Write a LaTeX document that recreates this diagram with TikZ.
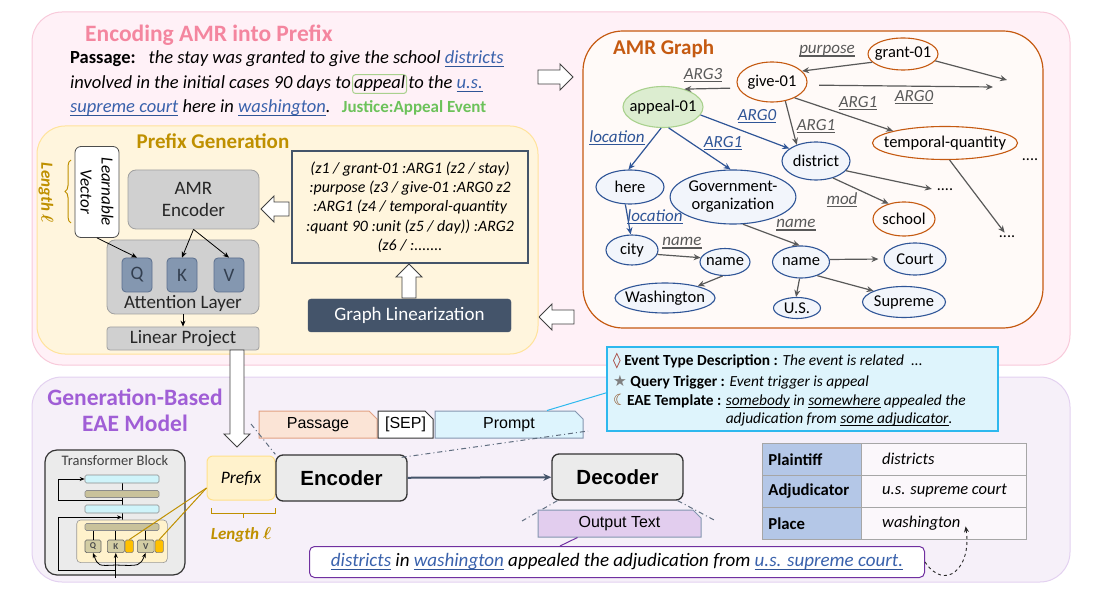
\documentclass[tikz,border=0pt]{standalone}
\usepackage{fontspec}
\usepackage{amsmath}
\usepackage{xcolor}
\usetikzlibrary{positioning,shapes.geometric,shapes.misc,decorations.pathreplacing,arrows.meta}

\setmainfont{Carlito}
\newfontfamily\arialfont{Liberation Sans}
\newfontfamily\symbolfont{DejaVu Sans}

\definecolor{pinkfill}{HTML}{FFF1F7}
\definecolor{pinkline}{HTML}{F8C9DA}
\definecolor{pinktitle}{HTML}{F4869F}
\definecolor{amrline}{HTML}{C55A11}
\definecolor{amrfill}{HTML}{FFFAF8}
\definecolor{nodeblue}{HTML}{2F5597}
\definecolor{nodefill}{HTML}{F2F5FB}
\definecolor{edgegray}{HTML}{595959}
\definecolor{trigfill}{HTML}{DCEDD0}
\definecolor{trigline}{HTML}{A9D18E}
\definecolor{eventgreen}{HTML}{6CC25A}
\definecolor{wordblue}{HTML}{3A62AC}
\definecolor{ulblue}{HTML}{2F5597}
\definecolor{prefixfill}{HTML}{FFF5DD}
\definecolor{prefixline}{HTML}{FFE39B}
\definecolor{gold}{HTML}{BF9000}
\definecolor{boxgray}{HTML}{D0D0D0}
\definecolor{boxline}{HTML}{A0A0A0}
\definecolor{qkvfill}{HTML}{8497B0}
\definecolor{qkvline}{HTML}{5B6F8E}
\definecolor{qkvtext}{HTML}{333F50}
\definecolor{slate}{HTML}{44546A}
\definecolor{lavfill}{HTML}{F6F0F9}
\definecolor{lavline}{HTML}{E3D1F0}
\definecolor{lavtitle}{HTML}{A05ED6}
\definecolor{cyanfill}{HTML}{DEF4FC}
\definecolor{cyanline}{HTML}{2DB8EE}
\definecolor{rolefill}{HTML}{B4C7E7}
\definecolor{cellfill}{HTML}{FBF7FB}
\definecolor{cellline}{HTML}{A6A6A6}
\definecolor{peachfill}{HTML}{FBE4D6}
\definecolor{peachline}{HTML}{E2A183}
\definecolor{promptfill}{HTML}{DDF4FD}
\definecolor{tabline}{HTML}{8496B0}
\definecolor{outfill}{HTML}{E2CDEE}
\definecolor{outpurple}{HTML}{7030A0}
\definecolor{blockgray}{HTML}{EBEBEB}
\definecolor{barcyan}{HTML}{CFF4FA}
\definecolor{barolive}{HTML}{C9C29B}
\definecolor{qkvolive}{HTML}{D3CDA4}
\definecolor{prefixbox}{HTML}{FFF2CC}
\definecolor{prefixboxline}{HTML}{FFE08A}
\definecolor{keyorange}{HTML}{FFC000}
\definecolor{diamondred}{HTML}{A33A30}
\definecolor{moonbrown}{HTML}{8A4A1C}

\newsavebox\ulbox
\newcommand{\ulw}[2]{\sbox\ulbox{#2}\rlap{\textcolor{#1}{\rule[-3pt]{\wd\ulbox}{1.2pt}}}\usebox\ulbox}
\newcommand{\pw}[1]{\textcolor{wordblue}{\ulw{ulblue}{#1}}}

\tikzset{
  titletext/.style={anchor=base west, inner sep=0pt},
  passtext/.style={anchor=base west, inner sep=0pt, font=\fontsize{18.5}{21}\selectfont},
  amrshape/.style={ellipse, draw=nodeblue, fill=nodefill, line width=1.1pt, inner sep=0pt,
    font=\fontsize{16.5}{18}\selectfont},
  amrnode/.style={amrshape, execute at begin node={\hbox to 0pt\bgroup\hss},
    execute at end node={\hss\egroup}},
  amrroot/.style={amrnode, draw=amrline, fill=amrfill},
  amrtrig/.style={amrnode, draw=trigline, fill=trigfill},
  grayedge/.style={draw=edgegray, line width=1.2pt, -{Stealth[length=7pt,width=6pt]}},
  blueedge/.style={grayedge, draw=nodeblue},
  graylabel/.style={inner sep=0pt, text=edgegray, font=\fontsize{17}{19}\selectfont\itshape},
  bluelabel/.style={graylabel, text=nodeblue},
  dots/.style={inner sep=0pt, font=\fontsize{16}{18}\selectfont},
  graybox/.style={draw=boxline, fill=boxgray, line width=0.8pt, rounded corners=8pt,
    font=\fontsize{19}{22}\selectfont, text=black!85},
  qkv/.style={draw=qkvline, fill=qkvfill, line width=0.8pt, rounded corners=4pt,
    minimum width=30, minimum height=34, inner sep=0pt, text=qkvtext, font=\fontsize{19}{22}\selectfont},
  smallarrow/.style={draw=black, line width=0.8pt, -{Stealth[length=6pt,width=5pt]}},
  tab/.style={chamfered rectangle, chamfered rectangle corners=north east,
    chamfered rectangle xsep=4pt, chamfered rectangle ysep=4pt, minimum height=27,
    inner sep=0pt, line width=1pt, font=\arialfont\fontsize{16}{18}\selectfont},
  coder/.style={draw=black!80, fill=blockgray, line width=1.3pt, rounded corners=7pt,
    minimum width=131, minimum height=46, font=\arialfont\bfseries\fontsize{20.5}{22}\selectfont},
  dashdotline/.style={draw=slate!85, line width=1pt, dash pattern=on 5pt off 3pt on 1pt off 3pt},
  bar/.style={draw=black!45, line width=0.6pt, rounded corners=1.5pt, minimum width=74, inner sep=0pt},
  tqkv/.style={draw=black!60, fill=qkvolive, line width=0.6pt, rounded corners=1.5pt,
    minimum height=12.7, inner sep=0pt, font=\fontsize{9}{10}\selectfont\bfseries, text=black!70},
  tkey/.style={draw=black!50, fill=keyorange, line width=0.6pt, rounded corners=1.5pt,
    minimum width=8.3, minimum height=12.7, inner sep=0pt},
  wire/.style={draw=black, line width=0.8pt},
  evtext/.style={anchor=base west, inner sep=0pt, font=\fontsize{15.4}{18}\selectfont},
  rolecell/.style={draw=cellline, fill=rolefill, line width=0.8pt, text width=87pt, inner xsep=6pt,
    minimum height=32, align=left, font=\fontsize{16.7}{18}\selectfont\bfseries},
  argcell/.style={draw=cellline, fill=cellfill, line width=0.8pt, minimum width=165, minimum height=32},
  argtext/.style={inner sep=0pt, font=\fontsize{16.5}{18}\selectfont\itshape},
  pics/hollowarrow/.style={code={
    \draw[draw=black!75, fill=white, line width=0.9pt]
      (0,-7) -- (#1-13,-7) -- (#1-13,-13) -- (#1,0) -- (#1-13,13) -- (#1-13,7) -- (0,7) -- cycle;}},
}

\begin{document}
\begin{tikzpicture}[x=1pt, y=-1pt]
\useasboundingbox (0,0) rectangle (1105,593);

% Encoding AMR into Prefix
\draw[pinkline, fill=pinkfill, line width=1pt, rounded corners=30pt] (32,12) rectangle (1070,365);
\node[titletext, text=pinktitle, font=\fontsize{23.5}{26}\selectfont\bfseries] (enctitle) at (85,42) {Encoding AMR into Prefix};

% passage with the trigger
\node[passtext] (pass1) at (70,64) {\textbf{Passage:}\hspace{13pt}\textit{the stay was granted to give the school \pw{districts}}};
\node[passtext] (pass2a) at (70,89) {\textit{involved in the initial cases 90 days to}};
\node[passtext, draw=trigline, line width=1pt, rounded corners=3pt, inner sep=1.5pt] (appeal) at ([xshift=1pt]pass2a.base east) {\textit{appeal}};
\node[passtext] (pass2b) at ([xshift=1pt]appeal.base east) {\textit{to the \pw{u.s.}}};
\node[passtext] (pass3) at (70,113) {\textit{\pw{supreme court} here in \pw{washington}.}};
\node[passtext, text=eventgreen, font=\fontsize{17}{19}\selectfont\bfseries] (evtype) at ([xshift=11pt]pass3.base east) {Justice:Appeal Event};

\pic at (538,77) {hollowarrow=35};

% AMR graph
\draw[amrline, fill=amrfill, line width=1.2pt, rounded corners=40pt] (583,31) rectangle (1043,328);
\node[titletext, text=amrline, font=\fontsize{21}{24}\selectfont\bfseries] (amrtitle) at (613,55) {AMR Graph};

\node[amrroot, minimum width=70, minimum height=32] (grant) at (903,54) {grant-01};
\node[amrroot, minimum width=70, minimum height=40] (give) at (772,82) {give-01};
\node[amrtrig, minimum width=80, minimum height=41] (appeal01) at (663,107) {appeal-01};
\node[amrnode, minimum width=68, minimum height=38] (district) at (816,161) {district};
\node[amrroot, minimum width=145, minimum height=33] (temporal) at (945,143) {temporal-quantity};
\node[amrnode, minimum width=68, minimum height=34] (here) at (630,187) {here};
\node[amrshape, minimum width=113, minimum height=54, align=center] (govorg) at (733,197) {Government-\\organization};
\node[amrroot, minimum width=62, minimum height=34] (school) at (904,219) {school};
\node[amrnode, minimum width=52, minimum height=30] (city) at (632,250) {city};
\node[amrnode, minimum width=50, minimum height=27] (cityname) at (725,262) {name};
\node[amrnode, minimum width=100, minimum height=30] (washington) at (665,298) {Washington};
\node[amrnode, minimum width=57, minimum height=32] (orgname) at (801,262) {name};
\node[amrnode, minimum width=62, minimum height=32] (court) at (915,259) {Court};
\node[amrnode, minimum width=47, minimum height=21] (us) at (797,308) {U.S.};
\node[amrnode, minimum width=83, minimum height=31] (supreme) at (904,302) {Supreme};
\node[dots] (dots1) at (1030,160) {....};
\node[dots] (dots2) at (945,190) {....};
\node[dots] (dots3) at (1007,237) {....};
\coordinate (grantout) at (1007,80);
\coordinate (giveout) at (993,87);

\draw[grayedge] (grant.195) -- (give.20);
\draw[grayedge] (grant.-12) -- (grantout);
\draw[grayedge, shorten <=12pt] (give.-5) -- (giveout);
\draw[grayedge, shorten <=8pt] (give.190) -- (appeal01.40);
\draw[grayedge] (give.-55) -- (district.140);
\draw[grayedge] (give.-35) -- (temporal.167);
\draw[blueedge] (appeal01.-12) -- (district.155);
\draw[blueedge] (appeal01.-95) -- (here.95);
\draw[blueedge] (appeal01.-75) -- (govorg.95);
\draw[grayedge, shorten >=5pt] (district.-18) -- (dots2.west);
\draw[grayedge] (district.-45) -- (school.135);
\draw[grayedge, shorten >=4pt] (temporal.-75) -- (dots3.north);
\draw[blueedge] (here.-105) -- (city.95);
\draw[grayedge] (city.-10) -- (cityname.170);
\draw[grayedge] (cityname.-100) -- (washington.20);
\draw[grayedge] (govorg.-70) -- (orgname.95);
\draw[grayedge, shorten >=5pt] (orgname.5) -- (court.west);
\draw[grayedge] (orgname.-95) -- (us.95);
\draw[grayedge] (orgname.-40) -- (supreme.160);

\node[graylabel] (lpurpose) at (827,51) {\ulw{edgegray}{purpose}};
\node[graylabel] (larg3) at (703,75) {\ulw{edgegray}{ARG3}};
\node[graylabel] (larg0a) at (914,97) {\ulw{edgegray}{ARG0}};
\node[graylabel] (larg1a) at (858,103) {\ulw{edgegray}{ARG1}};
\node[bluelabel] (larg0b) at (757,116) {\ulw{nodeblue}{ARG0}};
\node[graylabel] (larg1b) at (816,126) {\ulw{edgegray}{ARG1}};
\node[bluelabel] (lloc1) at (617,138) {\ulw{nodeblue}{location}};
\node[bluelabel] (larg1c) at (723,143) {\ulw{nodeblue}{ARG1}};
\node[graylabel] (lmod) at (842,200) {\ulw{edgegray}{mod}};
\node[bluelabel] (lloc2) at (655,217) {\ulw{nodeblue}{location}};
\node[graylabel] (lname1) at (796,225) {\ulw{edgegray}{name}};
\node[graylabel] (lname2) at (682,243) {\ulw{edgegray}{name}};

\pic[rotate=180] at (574,317) {hollowarrow=35};

% Prefix generation
\draw[prefixline, fill=prefixfill, line width=1pt, rounded corners=28pt] (37,126) rectangle (538,354);
\node[inner sep=0pt, text=gold, font=\fontsize{21}{24}\selectfont\bfseries] (pgtitle) at (213,141) {Prefix Generation};
\node[rotate=-90, inner sep=0pt, text=gold, font=\fontsize{17}{20}\selectfont\bfseries\itshape] (lenv) at (46,193) {Length $\boldsymbol{\ell}$};
\draw[gold, line width=1pt, decorate, decoration={brace, amplitude=6pt}] (71,223) -- (71,160);

\node[draw=black!70, fill=white, line width=0.8pt, rounded corners=6pt, rotate=-90, minimum width=91,
  minimum height=44, inner sep=0pt, align=center, font=\fontsize{17}{21}\selectfont\itshape] (learnvec) at (97,192) {Learnable\\Vector};
\node[graybox, minimum width=131, minimum height=59, align=center] (amrenc) at (193.5,199.5) {AMR\\Encoder};
\node[graybox, minimum width=152, minimum height=74] (attn) at (183,277) {};
\node[qkv] (q) at (137,275) {Q};
\node[qkv] (k) at (182,275) {K};
\node[qkv] (v) at (229,275) {V};
\node[inner sep=0pt, font=\fontsize{19}{22}\selectfont, text=black!85] (attnlabel) at (183,303) {Attention Layer};
\node[graybox, rounded corners=3pt, minimum width=152, minimum height=23, inner sep=0pt] (linear) at (183,338.5) {Linear Project};

\draw[smallarrow] (learnvec.east) -- (q.north);
\draw[smallarrow] (amrenc.south) -- (k.north);
\draw[smallarrow] (amrenc.south) -- (v.north);
\draw[smallarrow] (attn.south) -- (linear.north);

\node[draw=slate, fill=prefixfill, line width=1.5pt, minimum width=236, minimum height=112, align=center,
  font=\fontsize{15.9}{19.3}\selectfont\itshape] (lintext) at (410,207)
  {(z1 / grant-01 :ARG1 (z2 / stay)\\:purpose (z3 / give-01 :ARG0 z2\\:ARG1 (z4 / temporal-quantity\\:quant 90 :unit (z5 / day)) :ARG2\\(z6 / :.......};
\node[fill=slate, draw=slate, rounded corners=3pt, minimum width=203, minimum height=33, text=white,
  font=\fontsize{19}{22}\selectfont] (graphlin) at (409.5,315.5) {Graph Linearization};

\pic[rotate=90] at (409,298) {hollowarrow=34};
\pic[rotate=180] at (289,209) {hollowarrow=28};

% Generation-based EAE model
\draw[lavline, fill=lavfill, line width=1pt, rounded corners=30pt] (32,377) rectangle (1070,582);
\node[align=center, text=lavtitle, font=\fontsize{23.5}{26}\selectfont\bfseries] (gentitle) at (135,410) {Generation-Based\\EAE Model};

\pic[rotate=-90] at (237,350) {hollowarrow=97};

% transformer block
\draw[black!80, fill=blockgray, line width=1.2pt, rounded corners=12pt] (45,450) rectangle (185,575);
\node[inner sep=0pt, text=black!75, font=\fontsize{14.5}{16}\selectfont] (tbtitle) at (115,461) {Transformer Block};
\draw[wire] (122,483) -- (122,523);
\node[bar, fill=barcyan, minimum height=8] (bar1) at (122,479) {};
\node[bar, fill=barolive, minimum height=7] (bar2) at (122,494) {};
\node[bar, fill=barcyan, minimum height=8] (bar3) at (122,509) {};
\draw[wire, -{Stealth[length=5pt,width=4pt]}] ([yshift=-3pt]bar2.south) -- ++(-64,0) |- (bar1.west);
\node[draw=black!40, fill=prefixbox, line width=0.6pt, rounded corners=4pt, minimum width=90.6, minimum height=42.7] (tbattn) at (122,541.3) {};
\node[bar, fill=barolive, minimum height=7] (bar4) at (122,527) {};
\node[tqkv, minimum width=16] (tq) at (93,546.3) {Q};
\node[tqkv, minimum width=17] (tk) at (115.8,546.3) {K};
\node[tkey] (tkp) at (129.2,546.3) {};
\node[tqkv, minimum width=16.7] (tv) at (145.7,546.3) {V};
\node[tkey] (tvp) at (159.2,546.3) {};
\draw[wire] (tq.north |- bar4.south) -- (tq.north);
\draw[wire] (tk.north |- bar4.south) -- (tk.north);
\draw[wire] (tv.north |- bar4.south) -- (tv.north);
\coordinate (tbin) at (115.8,578);
\draw[wire, -{Stealth[length=5pt,width=4pt]}] (tbin) -- (tk.south);
\draw[wire, -{Stealth[length=5pt,width=4pt]}] ([yshift=8pt]tbin) -- ++(-57.5,0) |- ([yshift=-4pt]bar3.south);
\draw[wire, -{Stealth[length=5pt,width=4pt]}] ([yshift=13pt]tbin) .. controls (98,566) .. (tq.south);
\draw[wire, -{Stealth[length=5pt,width=4pt]}] ([yshift=13pt]tbin) .. controls (140,566) .. (tv.south);

% prefix and encoder-decoder
\node[draw=prefixboxline, fill=prefixbox, line width=1pt, rounded corners=6pt, minimum width=68, minimum height=44,
  font=\fontsize{17.5}{20}\selectfont\itshape] (prefix) at (241,478) {Prefix};
\draw[gold, line width=1pt] ([yshift=-10pt]prefix.west) -- (tkp.north);
\draw[gold, line width=1pt] ([yshift=-10pt]prefix.west) -- (tvp.north);
\draw[gold, line width=1pt] (211,508) -- (211,513) -- (275,513) -- (275,508) (243,513) -- (243,518);
\node[inner sep=0pt, text=gold, font=\fontsize{17}{20}\selectfont\bfseries\itshape] (lenp) at (241,535) {Length $\boldsymbol{\ell}$};

\node[tab, draw=peachline, fill=peachfill, minimum width=118] (passtab) at (318,424.5) {Passage};
\node[tab, draw=black!80, fill=white, minimum width=55] (septab) at (405.5,424.5) {[SEP]};
\node[tab, draw=tabline, fill=promptfill, minimum width=148] (prompttab) at (509,424.5) {Prompt};

\node[coder] (encoder) at (341.5,478) {Encoder};
\node[coder] (decoder) at (617.5,477) {Decoder};
\draw[slate, line width=2pt, -{Stealth[length=8pt,width=7pt]}] (encoder) -- (decoder);

\coordinate (dashtl) at (251,424);
\coordinate (dashtr) at (588,431);
\coordinate (dashbl) at (522,521);
\coordinate (dashbr) at (716,521);
\draw[dashdotline] (dashtl) -- (encoder.north west);
\draw[dashdotline] ([xshift=-6pt,yshift=-3pt]encoder.north east) -- (dashtr);
\draw[dashdotline] ([xshift=6pt]decoder.south west) -- (dashbl);
\draw[dashdotline] ([xshift=-6pt]decoder.south east) -- (dashbr);

\node[tab, draw=tabline, fill=outfill, minimum width=163] (outtab) at (619.5,523.5) {Output Text};

\node[draw=outpurple, fill=white, line width=1pt, rounded corners=5pt, minimum width=615, minimum height=31,
  font=\fontsize{19}{21}\selectfont\itshape] (sentence) at (617,562)
  {\pw{districts} in \pw{washington} appealed the adjudication from \pw{u.s. supreme court.}};
\draw[outpurple, line width=1pt] ([xshift=-57pt]sentence.north) -- ([xshift=40pt]outtab.south west);

% event prompt box
\node[draw=cyanline, fill=cyanfill, line width=1.8pt, minimum width=391, minimum height=84, inner sep=0pt,
  anchor=north west] (evbox) at (606,346) {};
\draw[cyanline, line width=1pt] ([xshift=38pt]prompttab.north) -- ([yshift=-4pt]evbox.west);
\node[evtext] (evline1) at (613,366) {{\symbolfont\textcolor{diamondred}{◊}} \textbf{Event Type Description :} \textit{The event is related\ \ ...}};
\node[evtext] (evline2) at (613,386) {{\symbolfont\textcolor{gray}{★}} \textbf{Query Trigger :} \textit{Event trigger is appeal}};
\node[evtext] (evline3) at (613,405) {{\symbolfont\textcolor{moonbrown}{☾}}\textbf{EAE Template :}};
\node[evtext] (tmpl1) at ([xshift=4pt]evline3.base east) {\textit{\ulw{black}{somebody} in \ulw{black}{somewhere} appealed the}};
\node[evtext] (tmpl2) at ([yshift=-18pt]tmpl1.base west) {\textit{adjudication from \ulw{black}{some adjudicator}.}};

% argument table
\foreach \role/\arg [count=\i] in {Plaintiff/districts, Adjudicator/u.s. supreme court, Place/washington}{
  \node[rolecell, anchor=north west] (role\i) at (762,{443+32*(\i-1)}) {\role};
  \node[argcell, anchor=north west] (argcell\i) at (861,{443+32*(\i-1)}) {};
  \node[argtext, anchor=west] (arg\i) at (882,{459+32*(\i-1)}) {\arg};
}
\draw[black!85, line width=0.9pt, dashed, -{Stealth[length=6pt,width=5pt]}] (sentence.east) .. controls (945,592) and (972,568) .. ([xshift=5pt,yshift=4pt]arg3.south east);

\end{tikzpicture}
\end{document}
